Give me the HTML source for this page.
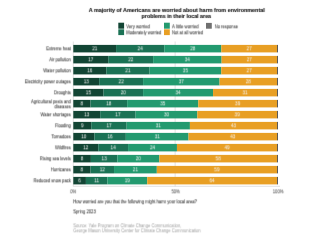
<!DOCTYPE html>
<html><head><meta charset="utf-8"><title>Environmental worries chart</title><style>
html,body{margin:0;padding:0;background:#fff;width:300px;height:240px;overflow:hidden}
svg{display:block;will-change:transform}
text{font-family:"Liberation Sans",sans-serif}
</style></head><body>
<svg width="300" height="240" viewBox="0 0 300 240" xmlns="http://www.w3.org/2000/svg">
<defs><filter id="b" x="-5%" y="-50%" width="110%" height="200%"><feOffset dx="0" dy="0.0"/><feConvolveMatrix order="3" kernelMatrix="0.0016 0.0168 0.0016 0.0504 0.5292 0.0504 0.0280 0.2940 0.0280" edgeMode="none"/></filter><filter id="t" x="-5%" y="-50%" width="110%" height="200%"><feConvolveMatrix order="3" kernelMatrix="0.0048 0.0504 0.0048 0.0704 0.7392 0.0704 0.0048 0.0504 0.0048" edgeMode="none"/></filter></defs>
<rect width="300" height="240" fill="#fff"/>
<rect x="118.30" y="22.70" width="5.80" height="6.00" fill="#124534"/>
<rect x="118.30" y="29.30" width="5.80" height="5.80" fill="#1b7255"/>
<rect x="164.00" y="22.70" width="5.80" height="6.00" fill="#239a6f"/>
<rect x="164.00" y="29.30" width="5.80" height="5.80" fill="#e89f24"/>
<rect x="206.00" y="22.90" width="5.80" height="5.80" fill="#707070"/>
<line x1="73.30" y1="41.5" x2="73.30" y2="186.5" stroke="#ccc" stroke-width="0.6"/>
<line x1="175.15" y1="41.5" x2="175.15" y2="186.5" stroke="#ccc" stroke-width="0.6"/>
<line x1="73.30" y1="186.3" x2="280" y2="186.3" stroke="#ccc" stroke-width="0.6"/>
<rect x="73.30" y="44.90" width="42.78" height="7.50" fill="#124534"/>
<rect x="116.08" y="44.90" width="48.19" height="7.50" fill="#1b7255"/>
<rect x="164.27" y="44.90" width="57.04" height="7.50" fill="#239a6f"/>
<rect x="221.30" y="44.90" width="55.70" height="7.50" fill="#e89f24"/>
<rect x="277.00" y="44.90" width="1.00" height="7.50" fill="#5a5a5a"/>
<rect x="73.30" y="55.90" width="34.93" height="7.50" fill="#124534"/>
<rect x="108.23" y="55.90" width="44.91" height="7.50" fill="#1b7255"/>
<rect x="153.14" y="55.90" width="68.46" height="7.50" fill="#239a6f"/>
<rect x="221.60" y="55.90" width="55.40" height="7.50" fill="#e89f24"/>
<rect x="277.00" y="55.90" width="1.00" height="7.50" fill="#5a5a5a"/>
<rect x="73.30" y="66.90" width="32.99" height="7.50" fill="#124534"/>
<rect x="106.29" y="66.90" width="43.28" height="7.50" fill="#1b7255"/>
<rect x="149.57" y="66.90" width="71.70" height="7.50" fill="#239a6f"/>
<rect x="221.26" y="66.90" width="55.74" height="7.50" fill="#e89f24"/>
<rect x="277.00" y="66.90" width="1.00" height="7.50" fill="#5a5a5a"/>
<rect x="73.30" y="77.90" width="25.88" height="7.50" fill="#124534"/>
<rect x="99.18" y="77.90" width="43.91" height="7.50" fill="#1b7255"/>
<rect x="143.09" y="77.90" width="76.47" height="7.50" fill="#239a6f"/>
<rect x="219.56" y="77.90" width="57.44" height="7.50" fill="#e89f24"/>
<rect x="277.00" y="77.90" width="1.00" height="7.50" fill="#5a5a5a"/>
<rect x="73.30" y="88.90" width="30.25" height="7.50" fill="#124534"/>
<rect x="103.55" y="88.90" width="39.54" height="7.50" fill="#1b7255"/>
<rect x="143.09" y="88.90" width="69.96" height="7.50" fill="#239a6f"/>
<rect x="213.05" y="88.90" width="63.95" height="7.50" fill="#e89f24"/>
<rect x="277.00" y="88.90" width="1.00" height="7.50" fill="#5a5a5a"/>
<rect x="73.30" y="99.90" width="17.20" height="7.50" fill="#124534"/>
<rect x="90.50" y="99.90" width="36.67" height="7.50" fill="#1b7255"/>
<rect x="127.16" y="99.90" width="71.09" height="7.50" fill="#239a6f"/>
<rect x="198.26" y="99.90" width="78.74" height="7.50" fill="#e89f24"/>
<rect x="277.00" y="99.90" width="1.00" height="7.50" fill="#5a5a5a"/>
<rect x="73.30" y="110.90" width="26.88" height="7.50" fill="#124534"/>
<rect x="100.18" y="110.90" width="35.43" height="7.50" fill="#1b7255"/>
<rect x="135.61" y="110.90" width="61.71" height="7.50" fill="#239a6f"/>
<rect x="197.32" y="110.90" width="79.68" height="7.50" fill="#e89f24"/>
<rect x="277.00" y="110.90" width="1.00" height="7.50" fill="#5a5a5a"/>
<rect x="73.30" y="121.90" width="17.93" height="7.50" fill="#124534"/>
<rect x="91.23" y="121.90" width="35.43" height="7.50" fill="#1b7255"/>
<rect x="126.66" y="121.90" width="63.25" height="7.50" fill="#239a6f"/>
<rect x="189.91" y="121.90" width="87.09" height="7.50" fill="#e89f24"/>
<rect x="277.00" y="121.90" width="1.00" height="7.50" fill="#5a5a5a"/>
<rect x="73.30" y="132.90" width="21.07" height="7.50" fill="#124534"/>
<rect x="94.37" y="132.90" width="31.49" height="7.50" fill="#1b7255"/>
<rect x="125.86" y="132.90" width="62.65" height="7.50" fill="#239a6f"/>
<rect x="188.51" y="132.90" width="88.49" height="7.50" fill="#e89f24"/>
<rect x="277.00" y="132.90" width="1.00" height="7.50" fill="#5a5a5a"/>
<rect x="73.30" y="143.90" width="24.94" height="7.50" fill="#124534"/>
<rect x="98.24" y="143.90" width="29.82" height="7.50" fill="#1b7255"/>
<rect x="128.06" y="143.90" width="48.89" height="7.50" fill="#239a6f"/>
<rect x="176.95" y="143.90" width="100.05" height="7.50" fill="#e89f24"/>
<rect x="277.00" y="143.90" width="1.00" height="7.50" fill="#5a5a5a"/>
<rect x="73.30" y="154.90" width="17.60" height="7.50" fill="#124534"/>
<rect x="90.90" y="154.90" width="26.48" height="7.50" fill="#1b7255"/>
<rect x="117.38" y="154.90" width="41.94" height="7.50" fill="#239a6f"/>
<rect x="159.32" y="154.90" width="117.68" height="7.50" fill="#e89f24"/>
<rect x="277.00" y="154.90" width="1.00" height="7.50" fill="#5a5a5a"/>
<rect x="73.30" y="165.90" width="17.20" height="7.50" fill="#124534"/>
<rect x="90.50" y="165.90" width="23.54" height="7.50" fill="#1b7255"/>
<rect x="114.04" y="165.90" width="42.78" height="7.50" fill="#239a6f"/>
<rect x="156.82" y="165.90" width="120.18" height="7.50" fill="#e89f24"/>
<rect x="277.00" y="165.90" width="1.00" height="7.50" fill="#5a5a5a"/>
<rect x="73.30" y="176.90" width="12.62" height="7.50" fill="#124534"/>
<rect x="85.92" y="176.90" width="21.51" height="7.50" fill="#1b7255"/>
<rect x="107.43" y="176.90" width="39.80" height="7.50" fill="#239a6f"/>
<rect x="147.23" y="176.90" width="129.77" height="7.50" fill="#e89f24"/>
<rect x="277.00" y="176.90" width="1.00" height="7.50" fill="#5a5a5a"/>

<g filter="url(#b)">
<text transform="translate(126.30,28.00) scale(0.8047,1)" font-size="5.3" fill="#4a4a4a" text-anchor="start" font-weight="normal" stroke="#4a4a4a" stroke-width="0.1">Very worried</text>
<text transform="translate(126.30,34.00) scale(0.7770,1)" font-size="5.3" fill="#4a4a4a" text-anchor="start" font-weight="normal" stroke="#4a4a4a" stroke-width="0.1">Moderately worried</text>
<text transform="translate(172.00,28.00) scale(0.8095,1)" font-size="5.3" fill="#4a4a4a" text-anchor="start" font-weight="normal" stroke="#4a4a4a" stroke-width="0.1">A little worried</text>
<text transform="translate(172.00,34.00) scale(0.7874,1)" font-size="5.3" fill="#4a4a4a" text-anchor="start" font-weight="normal" stroke="#4a4a4a" stroke-width="0.1">Not at all worried</text>
<text transform="translate(214.70,28.00) scale(0.7755,1)" font-size="5.3" fill="#4a4a4a" text-anchor="start" font-weight="normal" stroke="#4a4a4a" stroke-width="0.1">No response</text>
<text transform="translate(94.69,50.00) scale(0.7700,1)" font-size="6.0" fill="#f4f4f4" text-anchor="middle" font-weight="normal">21</text>
<text transform="translate(140.17,50.00) scale(0.7700,1)" font-size="6.0" fill="#f4f4f4" text-anchor="middle" font-weight="normal">24</text>
<text transform="translate(192.78,50.00) scale(0.7700,1)" font-size="6.0" fill="#f4f4f4" text-anchor="middle" font-weight="normal">28</text>
<text transform="translate(249.15,50.00) scale(0.7700,1)" font-size="6.0" fill="#f4f4f4" text-anchor="middle" font-weight="normal">27</text>
<text transform="translate(70.90,50.00) scale(0.7868,1)" font-size="5.3" fill="#4a4a4a" text-anchor="end" font-weight="normal" stroke="#4a4a4a" stroke-width="0.1">Extreme heat</text>
<text transform="translate(90.76,61.00) scale(0.7700,1)" font-size="6.0" fill="#f4f4f4" text-anchor="middle" font-weight="normal">17</text>
<text transform="translate(130.69,61.00) scale(0.7700,1)" font-size="6.0" fill="#f4f4f4" text-anchor="middle" font-weight="normal">22</text>
<text transform="translate(187.37,61.00) scale(0.7700,1)" font-size="6.0" fill="#f4f4f4" text-anchor="middle" font-weight="normal">34</text>
<text transform="translate(249.30,61.00) scale(0.7700,1)" font-size="6.0" fill="#f4f4f4" text-anchor="middle" font-weight="normal">27</text>
<text transform="translate(70.90,61.00) scale(0.7868,1)" font-size="5.3" fill="#4a4a4a" text-anchor="end" font-weight="normal" stroke="#4a4a4a" stroke-width="0.1">Air pollution</text>
<text transform="translate(89.80,72.00) scale(0.7700,1)" font-size="6.0" fill="#f4f4f4" text-anchor="middle" font-weight="normal">16</text>
<text transform="translate(127.93,72.00) scale(0.7700,1)" font-size="6.0" fill="#f4f4f4" text-anchor="middle" font-weight="normal">21</text>
<text transform="translate(185.42,72.00) scale(0.7700,1)" font-size="6.0" fill="#f4f4f4" text-anchor="middle" font-weight="normal">35</text>
<text transform="translate(249.13,72.00) scale(0.7700,1)" font-size="6.0" fill="#f4f4f4" text-anchor="middle" font-weight="normal">27</text>
<text transform="translate(70.90,72.00) scale(0.7868,1)" font-size="5.3" fill="#4a4a4a" text-anchor="end" font-weight="normal" stroke="#4a4a4a" stroke-width="0.1">Water pollution</text>
<text transform="translate(86.24,83.00) scale(0.7700,1)" font-size="6.0" fill="#f4f4f4" text-anchor="middle" font-weight="normal">13</text>
<text transform="translate(121.14,83.00) scale(0.7700,1)" font-size="6.0" fill="#f4f4f4" text-anchor="middle" font-weight="normal">22</text>
<text transform="translate(181.33,83.00) scale(0.7700,1)" font-size="6.0" fill="#f4f4f4" text-anchor="middle" font-weight="normal">37</text>
<text transform="translate(248.28,83.00) scale(0.7700,1)" font-size="6.0" fill="#f4f4f4" text-anchor="middle" font-weight="normal">28</text>
<text transform="translate(70.90,83.00) scale(0.7868,1)" font-size="5.3" fill="#4a4a4a" text-anchor="end" font-weight="normal" stroke="#4a4a4a" stroke-width="0.1">Electricity power outages</text>
<text transform="translate(88.43,94.00) scale(0.7700,1)" font-size="6.0" fill="#f4f4f4" text-anchor="middle" font-weight="normal">15</text>
<text transform="translate(123.32,94.00) scale(0.7700,1)" font-size="6.0" fill="#f4f4f4" text-anchor="middle" font-weight="normal">20</text>
<text transform="translate(178.07,94.00) scale(0.7700,1)" font-size="6.0" fill="#f4f4f4" text-anchor="middle" font-weight="normal">34</text>
<text transform="translate(245.03,94.00) scale(0.7700,1)" font-size="6.0" fill="#f4f4f4" text-anchor="middle" font-weight="normal">31</text>
<text transform="translate(70.90,94.00) scale(0.7868,1)" font-size="5.3" fill="#4a4a4a" text-anchor="end" font-weight="normal" stroke="#4a4a4a" stroke-width="0.1">Droughts</text>
<text transform="translate(81.90,105.00) scale(0.7700,1)" font-size="6.0" fill="#f4f4f4" text-anchor="middle" font-weight="normal">8</text>
<text transform="translate(108.83,105.00) scale(0.7700,1)" font-size="6.0" fill="#f4f4f4" text-anchor="middle" font-weight="normal">18</text>
<text transform="translate(162.71,105.00) scale(0.7700,1)" font-size="6.0" fill="#f4f4f4" text-anchor="middle" font-weight="normal">35</text>
<text transform="translate(237.63,105.00) scale(0.7700,1)" font-size="6.0" fill="#f4f4f4" text-anchor="middle" font-weight="normal">39</text>
<text transform="translate(70.90,103.00) scale(0.7868,1)" font-size="5.3" fill="#4a4a4a" text-anchor="end" font-weight="normal" stroke="#4a4a4a" stroke-width="0.1">Agricultural pests and</text>
<text transform="translate(70.90,108.00) scale(0.7868,1)" font-size="5.3" fill="#4a4a4a" text-anchor="end" font-weight="normal" stroke="#4a4a4a" stroke-width="0.1">diseases</text>
<text transform="translate(86.74,116.00) scale(0.7700,1)" font-size="6.0" fill="#f4f4f4" text-anchor="middle" font-weight="normal">13</text>
<text transform="translate(117.90,116.00) scale(0.7700,1)" font-size="6.0" fill="#f4f4f4" text-anchor="middle" font-weight="normal">17</text>
<text transform="translate(166.46,116.00) scale(0.7700,1)" font-size="6.0" fill="#f4f4f4" text-anchor="middle" font-weight="normal">30</text>
<text transform="translate(237.16,116.00) scale(0.7700,1)" font-size="6.0" fill="#f4f4f4" text-anchor="middle" font-weight="normal">39</text>
<text transform="translate(70.90,116.00) scale(0.7868,1)" font-size="5.3" fill="#4a4a4a" text-anchor="end" font-weight="normal" stroke="#4a4a4a" stroke-width="0.1">Water shortages</text>
<text transform="translate(82.27,127.00) scale(0.7700,1)" font-size="6.0" fill="#f4f4f4" text-anchor="middle" font-weight="normal">9</text>
<text transform="translate(108.95,127.00) scale(0.7700,1)" font-size="6.0" fill="#f4f4f4" text-anchor="middle" font-weight="normal">17</text>
<text transform="translate(158.29,127.00) scale(0.7700,1)" font-size="6.0" fill="#f4f4f4" text-anchor="middle" font-weight="normal">31</text>
<text transform="translate(233.45,127.00) scale(0.7700,1)" font-size="6.0" fill="#f4f4f4" text-anchor="middle" font-weight="normal">43</text>
<text transform="translate(70.90,127.00) scale(0.7868,1)" font-size="5.3" fill="#4a4a4a" text-anchor="end" font-weight="normal" stroke="#4a4a4a" stroke-width="0.1">Flooding</text>
<text transform="translate(83.84,138.00) scale(0.7700,1)" font-size="6.0" fill="#f4f4f4" text-anchor="middle" font-weight="normal">10</text>
<text transform="translate(110.12,138.00) scale(0.7700,1)" font-size="6.0" fill="#f4f4f4" text-anchor="middle" font-weight="normal">16</text>
<text transform="translate(157.19,138.00) scale(0.7700,1)" font-size="6.0" fill="#f4f4f4" text-anchor="middle" font-weight="normal">31</text>
<text transform="translate(232.75,138.00) scale(0.7700,1)" font-size="6.0" fill="#f4f4f4" text-anchor="middle" font-weight="normal">43</text>
<text transform="translate(70.90,138.00) scale(0.7868,1)" font-size="5.3" fill="#4a4a4a" text-anchor="end" font-weight="normal" stroke="#4a4a4a" stroke-width="0.1">Tornadoes</text>
<text transform="translate(85.77,149.00) scale(0.7700,1)" font-size="6.0" fill="#f4f4f4" text-anchor="middle" font-weight="normal">12</text>
<text transform="translate(113.15,149.00) scale(0.7700,1)" font-size="6.0" fill="#f4f4f4" text-anchor="middle" font-weight="normal">14</text>
<text transform="translate(152.51,149.00) scale(0.7700,1)" font-size="6.0" fill="#f4f4f4" text-anchor="middle" font-weight="normal">24</text>
<text transform="translate(226.97,149.00) scale(0.7700,1)" font-size="6.0" fill="#f4f4f4" text-anchor="middle" font-weight="normal">49</text>
<text transform="translate(70.90,149.00) scale(0.7868,1)" font-size="5.3" fill="#4a4a4a" text-anchor="end" font-weight="normal" stroke="#4a4a4a" stroke-width="0.1">Wildfires</text>
<text transform="translate(82.10,160.00) scale(0.7700,1)" font-size="6.0" fill="#f4f4f4" text-anchor="middle" font-weight="normal">8</text>
<text transform="translate(104.14,160.00) scale(0.7700,1)" font-size="6.0" fill="#f4f4f4" text-anchor="middle" font-weight="normal">13</text>
<text transform="translate(138.35,160.00) scale(0.7700,1)" font-size="6.0" fill="#f4f4f4" text-anchor="middle" font-weight="normal">20</text>
<text transform="translate(218.16,160.00) scale(0.7700,1)" font-size="6.0" fill="#f4f4f4" text-anchor="middle" font-weight="normal">58</text>
<text transform="translate(70.90,160.00) scale(0.7868,1)" font-size="5.3" fill="#4a4a4a" text-anchor="end" font-weight="normal" stroke="#4a4a4a" stroke-width="0.1">Rising sea levels</text>
<text transform="translate(81.90,171.00) scale(0.7700,1)" font-size="6.0" fill="#f4f4f4" text-anchor="middle" font-weight="normal">8</text>
<text transform="translate(102.27,171.00) scale(0.7700,1)" font-size="6.0" fill="#f4f4f4" text-anchor="middle" font-weight="normal">12</text>
<text transform="translate(135.43,171.00) scale(0.7700,1)" font-size="6.0" fill="#f4f4f4" text-anchor="middle" font-weight="normal">21</text>
<text transform="translate(216.91,171.00) scale(0.7700,1)" font-size="6.0" fill="#f4f4f4" text-anchor="middle" font-weight="normal">59</text>
<text transform="translate(70.90,171.00) scale(0.7868,1)" font-size="5.3" fill="#4a4a4a" text-anchor="end" font-weight="normal" stroke="#4a4a4a" stroke-width="0.1">Hurricanes</text>
<text transform="translate(79.61,182.00) scale(0.7700,1)" font-size="6.0" fill="#f4f4f4" text-anchor="middle" font-weight="normal">6</text>
<text transform="translate(96.68,182.00) scale(0.7700,1)" font-size="6.0" fill="#f4f4f4" text-anchor="middle" font-weight="normal">11</text>
<text transform="translate(127.33,182.00) scale(0.7700,1)" font-size="6.0" fill="#f4f4f4" text-anchor="middle" font-weight="normal">19</text>
<text transform="translate(212.12,182.00) scale(0.7700,1)" font-size="6.0" fill="#f4f4f4" text-anchor="middle" font-weight="normal">64</text>
<text transform="translate(70.90,182.00) scale(0.7868,1)" font-size="5.3" fill="#4a4a4a" text-anchor="end" font-weight="normal" stroke="#4a4a4a" stroke-width="0.1">Reduced snow pack</text>
<text transform="translate(73.20,193.00) scale(0.7868,1)" font-size="5.3" fill="#666" text-anchor="middle" font-weight="normal" stroke="#666" stroke-width="0.1">0%</text>
<text transform="translate(175.60,193.00) scale(0.7868,1)" font-size="5.3" fill="#666" text-anchor="middle" font-weight="normal" stroke="#666" stroke-width="0.1">50%</text>
<text transform="translate(278.10,193.00) scale(0.7868,1)" font-size="5.3" fill="#666" text-anchor="middle" font-weight="normal" stroke="#666" stroke-width="0.1">100%</text>
<text transform="translate(73.20,203.00) scale(0.8204,1)" font-size="5.1" fill="#111" text-anchor="start" font-weight="normal">How worried are you that the following might harm your local area?</text>
<text transform="translate(73.20,213.00) scale(0.8186,1)" font-size="5.1" fill="#111" text-anchor="start" font-weight="normal">Spring 2023</text>
<text transform="translate(73.20,227.00) scale(0.8150,1)" font-size="5.1" fill="#a0a0a0" text-anchor="start" font-weight="normal">Source: Yale Program on Climate Change Communication,</text>
<text transform="translate(73.20,232.00) scale(0.8178,1)" font-size="5.1" fill="#a0a0a0" text-anchor="start" font-weight="normal">George Mason University Center for Climate Change Communication</text>
</g>
<g filter="url(#t)">
<text transform="translate(88.70,12.00) scale(0.9054,1)" font-size="6.0" fill="#111" text-anchor="start" font-weight="bold" stroke="#111" stroke-width="0.12">A majority of Americans are worried about harm from environmental</text>
<text transform="translate(141.60,18.00) scale(0.8932,1)" font-size="6.0" fill="#111" text-anchor="start" font-weight="bold" stroke="#111" stroke-width="0.12">problems in their local area</text>
</g>
</svg>
</body></html>
